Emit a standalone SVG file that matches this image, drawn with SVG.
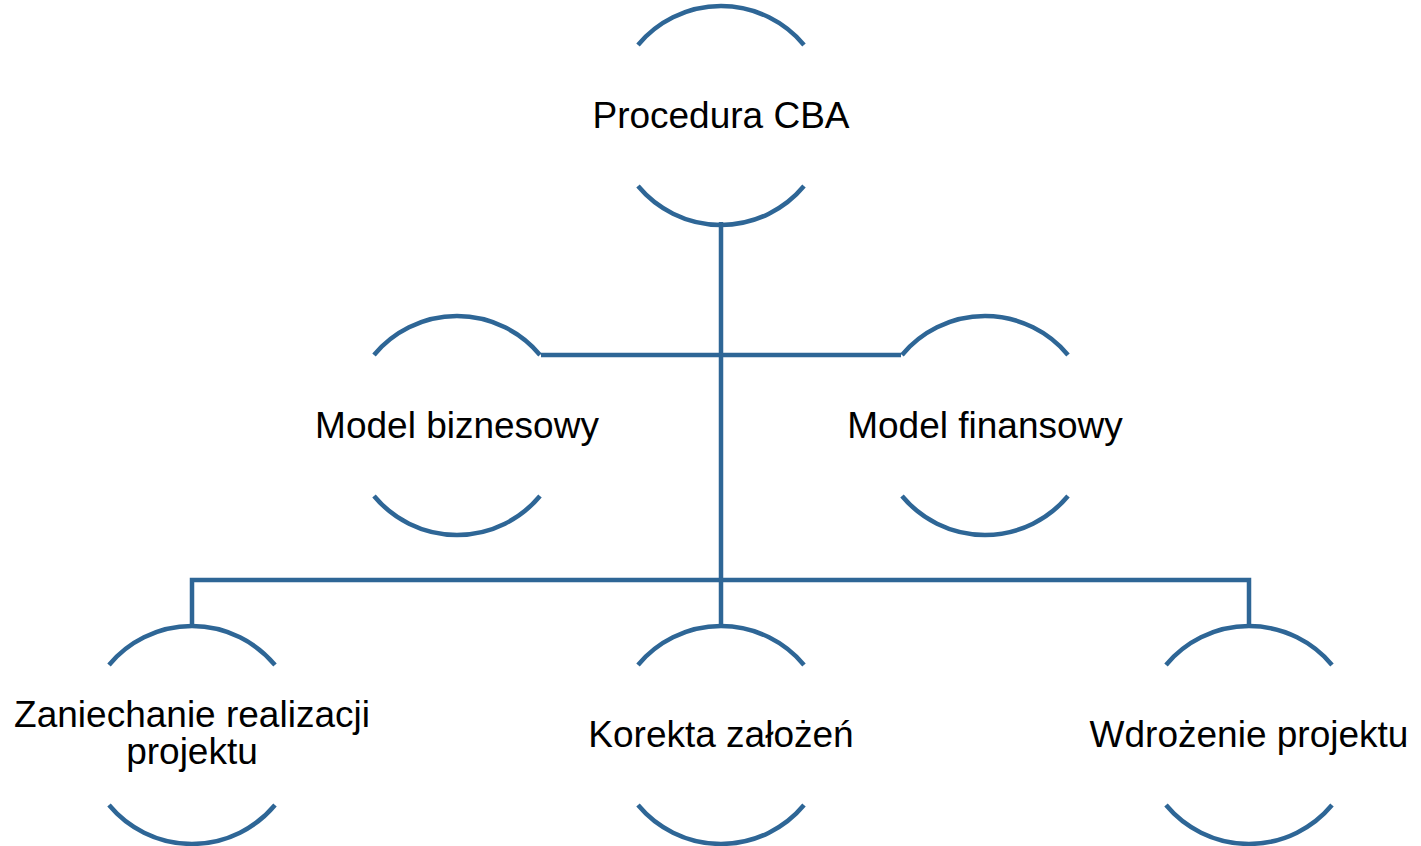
<svg xmlns="http://www.w3.org/2000/svg" width="1421" height="846" viewBox="0 0 1421 846">
<defs>
<style>
.arc{fill:none;stroke:#2E6696;stroke-width:4.5;}
.con{fill:none;stroke:#2E6696;stroke-width:4.5;}
.t{font-family:"Liberation Sans",Arial,sans-serif;font-size:37px;fill:#000;text-anchor:middle;}
</style>
</defs>
<rect width="1421" height="846" fill="#fff"/>
<g id="connectors">
<path class="con" d="M721,222 V580"/>
<path class="con" d="M541,355 H901"/>
<path class="con" d="M192,626 V580 H1249 V626"/>
<path class="con" d="M721,580 V626"/>
</g>
<g id="node-procedura">
<path class="arc" d="M638,45 A108,108 0 0 1 804,45"/>
<path class="arc" d="M638,186 A108,108 0 0 0 804,186"/>
<text class="t" x="721" y="128">Procedura CBA</text>
</g>
<g id="node-biznesowy">
<path class="arc" d="M374,355 A108,108 0 0 1 540,355"/>
<path class="arc" d="M374,496 A108,108 0 0 0 540,496"/>
<text class="t" x="457" y="438">Model biznesowy</text>
</g>
<g id="node-finansowy">
<path class="arc" d="M902,355 A108,108 0 0 1 1068,355"/>
<path class="arc" d="M902,496 A108,108 0 0 0 1068,496"/>
<text class="t" x="985" y="438">Model finansowy</text>
</g>
<g id="node-zaniechanie">
<path class="arc" d="M109,665 A108,108 0 0 1 275,665"/>
<path class="arc" d="M109,805 A108,108 0 0 0 275,805"/>
<text class="t" x="192" y="727"><tspan x="192">Zaniechanie realizacji</tspan><tspan x="192" dy="37">projektu</tspan></text>
</g>
<g id="node-korekta">
<path class="arc" d="M638,665 A108,108 0 0 1 804,665"/>
<path class="arc" d="M638,805 A108,108 0 0 0 804,805"/>
<text class="t" x="721" y="747">Korekta założeń</text>
</g>
<g id="node-wdrozenie">
<path class="arc" d="M1166,665 A108,108 0 0 1 1332,665"/>
<path class="arc" d="M1166,805 A108,108 0 0 0 1332,805"/>
<text class="t" x="1249" y="747">Wdrożenie projektu</text>
</g>
</svg>
